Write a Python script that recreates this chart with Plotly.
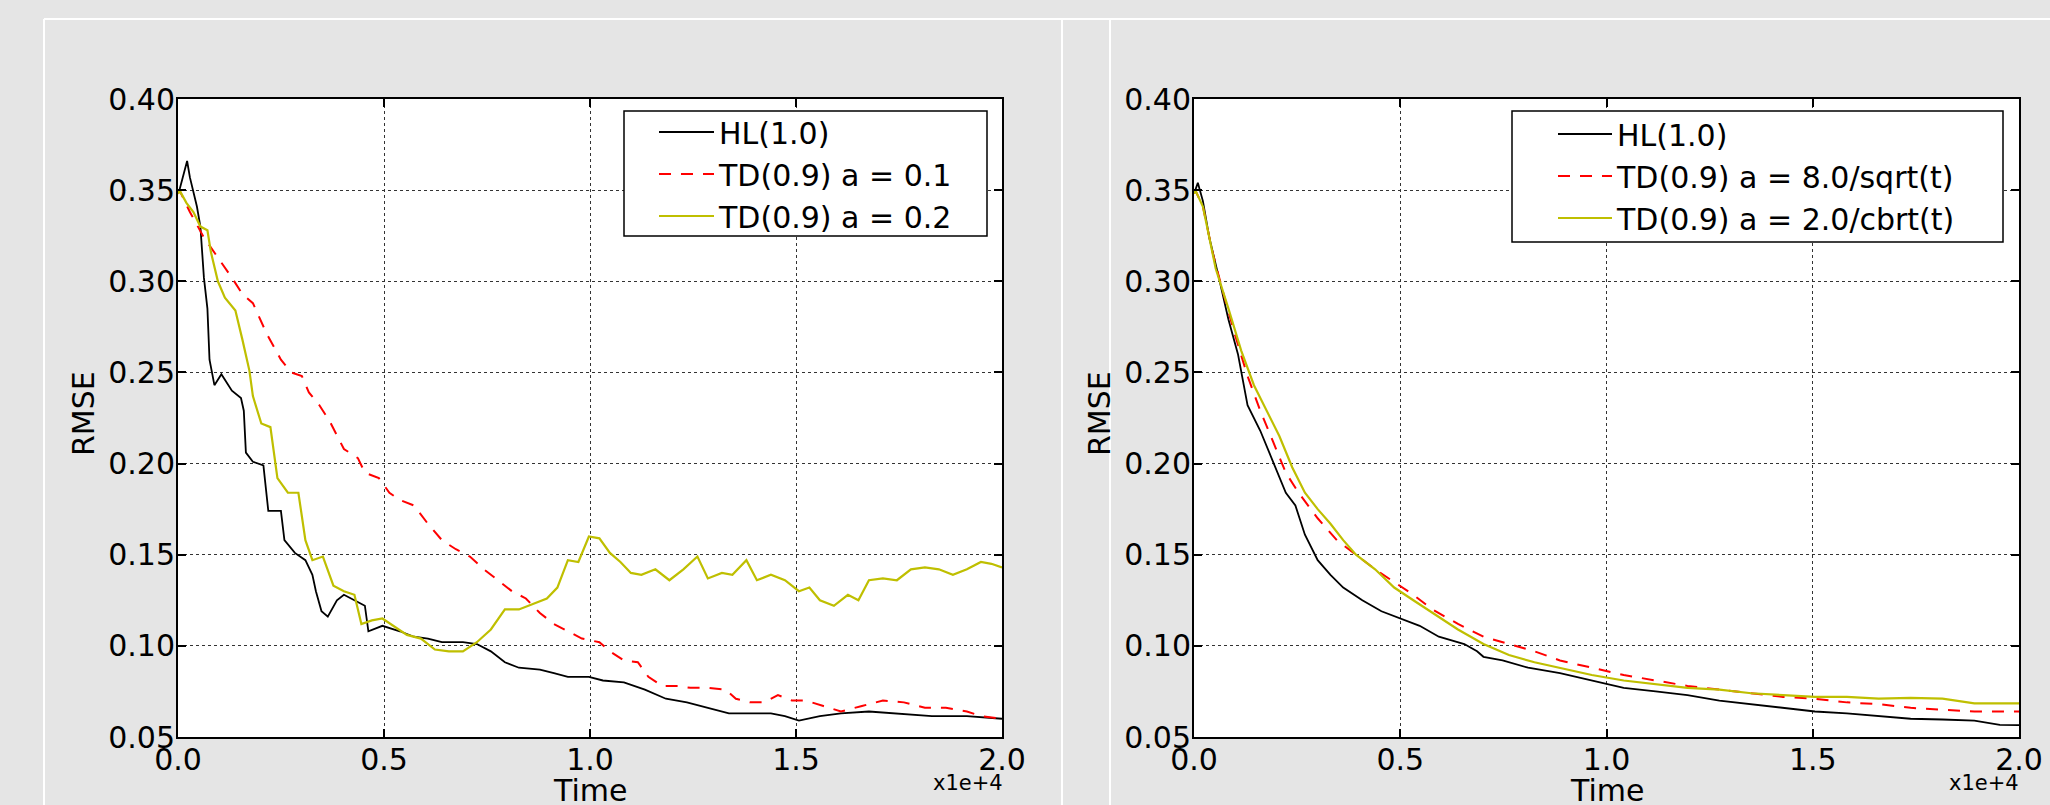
import plotly.graph_objects as go

# ---------------- data (Time in raw units, RMSE) ----------------
# Left panel
hl_left_t = [0, 34, 221, 289, 459, 544, 629, 714, 765, 884, 1053, 1308, 1529, 1597, 1648, 1818, 2073, 2192,
             2498, 2583, 2837, 3092, 3262, 3347, 3483, 3636, 3857, 4027, 4282, 4536, 4621, 4961, 5386, 5726,
             6065, 6405, 6915, 7254, 7594, 7934, 8274, 8784, 9124, 9463, 9973, 10313, 10823, 11332, 11842,
             12352, 12862, 13372, 13881, 14391, 14731, 15071, 15580, 16090, 16770, 17449, 18299, 19148, 20000]
hl_left_v = [0.348, 0.350, 0.366, 0.357, 0.341, 0.330, 0.302, 0.285, 0.257, 0.243, 0.249, 0.240, 0.236, 0.229,
             0.206, 0.201, 0.199, 0.174, 0.174, 0.158, 0.151, 0.147, 0.139, 0.130, 0.119, 0.116, 0.125, 0.128,
             0.125, 0.122, 0.108, 0.111, 0.108, 0.105, 0.104, 0.102, 0.102, 0.101, 0.097, 0.091, 0.088, 0.087,
             0.085, 0.083, 0.083, 0.081, 0.080, 0.076, 0.071, 0.069, 0.066, 0.063, 0.063, 0.063, 0.0615, 0.059,
             0.0615, 0.063, 0.064, 0.063, 0.0615, 0.0615, 0.060]

td01_t = [0, 34, 289, 629, 968, 1308, 1563, 1818, 2158, 2498, 2752, 3007, 3177, 3432, 3687, 4027, 4366, 4536,
          4876, 5131, 5386, 5726, 6065, 6405, 6745, 7085, 7425, 7764, 8104, 8444, 8784, 9124, 9463, 9803,
          10228, 10483, 10823, 11162, 11417, 11757, 12097, 12437, 12861, 13286, 13541, 13881, 14221, 14561,
          14900, 15240, 15665, 16090, 16600, 17109, 17619, 18129, 18638, 19148, 19488, 20000]
td01_v = [0.348, 0.350, 0.338, 0.324, 0.313, 0.302, 0.293, 0.288, 0.271, 0.257, 0.250, 0.248, 0.239, 0.232,
          0.223, 0.208, 0.203, 0.195, 0.192, 0.184, 0.180, 0.177, 0.167, 0.158, 0.153, 0.149, 0.142, 0.136,
          0.130, 0.126, 0.118, 0.112, 0.108, 0.104, 0.102, 0.097, 0.092, 0.091, 0.083, 0.078, 0.078, 0.077,
          0.077, 0.076, 0.071, 0.069, 0.069, 0.073, 0.070, 0.070, 0.067, 0.064, 0.067, 0.070, 0.069, 0.066,
          0.066, 0.064, 0.0615, 0.060]

td02_t = [0, 34, 204, 374, 544, 714, 799, 968, 1138, 1393, 1563, 1733, 1818, 2022, 2243, 2413, 2667, 2922,
          3092, 3262, 3517, 3772, 4027, 4282, 4451, 4706, 4961, 5216, 5556, 5896, 6235, 6575, 6915, 7254,
          7594, 7934, 8274, 8614, 8953, 9208, 9463, 9718, 9973, 10228, 10483, 10738, 10992, 11247, 11587,
          11927, 12267, 12607, 12861, 13201, 13456, 13796, 14051, 14391, 14731, 15071, 15325, 15580, 15920,
          16260, 16515, 16770, 17109, 17449, 17789, 18129, 18468, 18808, 19148, 19488, 19743, 20000]
td02_v = [0.348, 0.350, 0.343, 0.338, 0.330, 0.328, 0.316, 0.300, 0.291, 0.284, 0.268, 0.251, 0.237, 0.222,
          0.220, 0.192, 0.184, 0.184, 0.158, 0.147, 0.149, 0.133, 0.130, 0.128, 0.112, 0.114, 0.115, 0.111,
          0.106, 0.104, 0.098, 0.097, 0.097, 0.102, 0.109, 0.120, 0.120, 0.123, 0.126, 0.132, 0.147, 0.146,
          0.160, 0.159, 0.151, 0.146, 0.140, 0.139, 0.142, 0.136, 0.142, 0.149, 0.137, 0.140, 0.139, 0.147,
          0.136, 0.139, 0.136, 0.130, 0.132, 0.125, 0.122, 0.128, 0.125, 0.136, 0.137, 0.136, 0.142, 0.143,
          0.142, 0.139, 0.142, 0.146, 0.145, 0.143]

# Right panel
hl_right_t = [0, 31, 93, 216, 371, 603, 835, 1066, 1298, 1607, 1917, 2226, 2458, 2689, 2998, 3308, 3617,
              4080, 4544, 5008, 5471, 5935, 6553, 6862, 7017, 7481, 8099, 8872, 9644, 10417, 11190, 11963,
              12736, 13509, 14281, 15054, 15827, 16600, 17373, 18145, 18918, 19536, 20000]
hl_right_v = [0.348, 0.350, 0.354, 0.344, 0.324, 0.302, 0.279, 0.260, 0.232, 0.218, 0.201, 0.184, 0.177,
              0.161, 0.147, 0.139, 0.132, 0.125, 0.119, 0.115, 0.111, 0.105, 0.101, 0.097, 0.094, 0.092,
              0.088, 0.085, 0.081, 0.077, 0.075, 0.073, 0.070, 0.068, 0.066, 0.064, 0.063, 0.0615, 0.060,
              0.0596, 0.059, 0.0567, 0.0565]

sqrt_t = [0, 31, 216, 448, 680, 989, 1298, 1607, 1917, 2226, 2535, 2998, 3462, 3926, 4390, 4853, 5317, 5781,
          6399, 7017, 7635, 8253, 8872, 9644, 10417, 11190, 11963, 12736, 13509, 14281, 15054, 15827, 16600,
          17373, 18145, 18918, 19536, 20000]
sqrt_v = [0.348, 0.350, 0.341, 0.316, 0.296, 0.271, 0.248, 0.229, 0.212, 0.195, 0.184, 0.170, 0.158, 0.150,
          0.142, 0.135, 0.128, 0.120, 0.112, 0.105, 0.101, 0.097, 0.092, 0.088, 0.084, 0.081, 0.078, 0.076,
          0.074, 0.072, 0.071, 0.069, 0.068, 0.066, 0.065, 0.064, 0.064, 0.064]

cbrt_t = [0, 31, 216, 526, 835, 1144, 1453, 1762, 2071, 2380, 2689, 2998, 3308, 3617, 3926, 4390, 4853, 5317,
          5781, 6399, 7017, 7635, 8253, 8872, 9644, 10417, 11190, 11963, 12736, 13509, 14281, 15054, 15827,
          16600, 17373, 18145, 18918, 19536, 20000]
cbrt_v = [0.348, 0.350, 0.341, 0.307, 0.285, 0.262, 0.243, 0.229, 0.215, 0.198, 0.184, 0.175, 0.167, 0.158,
          0.150, 0.142, 0.132, 0.125, 0.118, 0.109, 0.101, 0.095, 0.091, 0.088, 0.084, 0.081, 0.079, 0.077,
          0.076, 0.074, 0.073, 0.072, 0.072, 0.071, 0.0715, 0.071, 0.0685, 0.0685, 0.0685]

left_names = ["HL(1.0)", "TD(0.9) a = 0.1", "TD(0.9) a = 0.2"]
right_names = ["HL(1.0)", "TD(0.9) a = 8.0/sqrt(t)", "TD(0.9) a = 2.0/cbrt(t)"]

x_tickvals = [0, 5000, 10000, 15000, 20000]
x_ticktext = ["0.0", "0.5", "1.0", "1.5", "2.0"]
y_tickvals = [0.05, 0.10, 0.15, 0.20, 0.25, 0.30, 0.35, 0.40]
y_ticktext = ["0.05", "0.10", "0.15", "0.20", "0.25", "0.30", "0.35", "0.40"]

# ---------------- styling ----------------
W, H = 2050, 805
FONT = "DejaVu Sans"
BLACK = "#000000"
RED = "#ff0000"
YEL = "#bfbf00"
BG = "#e5e5e5"


def px_x(p):
    return p / W


def px_y(p):
    return (H - p) / H


fig = go.Figure()

styles = [dict(color=BLACK, width=1.8), dict(color=RED, width=2, dash="12px,10px"), dict(color=YEL, width=2.2)]

left_series = [(hl_left_t, hl_left_v), (td01_t, td01_v), (td02_t, td02_v)]
right_series = [(hl_right_t, hl_right_v), (sqrt_t, sqrt_v), (cbrt_t, cbrt_v)]

for (t, v), name, st in zip(left_series, left_names, styles):
    fig.add_trace(go.Scatter(x=t, y=v, mode="lines", name=name, line=st,
                             xaxis="x", yaxis="y", legend="legend"))
for (t, v), name, st in zip(right_series, right_names, styles):
    fig.add_trace(go.Scatter(x=t, y=v, mode="lines", name=name, line=st,
                             xaxis="x2", yaxis="y2", legend="legend2"))

axis_common = dict(
    showline=True, linecolor=BLACK, linewidth=2, mirror="ticks",
    ticks="inside", ticklen=8, tickwidth=1.5, tickcolor=BLACK,
    showgrid=True, gridcolor="#333333", griddash="dot", gridwidth=1,
    zeroline=False, tickfont=dict(family=FONT, size=30, color=BLACK),
    automargin=False,
)

xdom1 = [px_x(178), px_x(1002)]
xdom2 = [px_x(1194), px_x(2019)]
ydom = [px_y(737), px_y(99)]

legend_common = dict(xanchor="left", yanchor="top", bgcolor="rgba(0,0,0,0)", borderwidth=0,
                     font=dict(family=FONT, size=30, color=BLACK), indentation=0, tracegroupgap=0)

fig.update_layout(
    width=W, height=H,
    margin=dict(l=0, r=0, t=0, b=0),
    paper_bgcolor=BG, plot_bgcolor="#ffffff",
    font=dict(family=FONT, color=BLACK),
    xaxis=dict(domain=xdom1, range=[0, 20000], tickvals=x_tickvals, ticktext=x_ticktext,
               anchor="y", ticklabelstandoff=-5, **axis_common),
    yaxis=dict(domain=ydom, range=[0.05, 0.40], tickvals=y_tickvals, ticktext=y_ticktext,
               anchor="x", ticklabelstandoff=-5, **axis_common),
    xaxis2=dict(domain=xdom2, range=[0, 20000], tickvals=x_tickvals, ticktext=x_ticktext,
                anchor="y2", ticklabelstandoff=-5, **axis_common),
    yaxis2=dict(domain=ydom, range=[0.05, 0.40], tickvals=y_tickvals, ticktext=y_ticktext,
                anchor="x2", ticklabelstandoff=-5, **axis_common),
    legend=dict(x=px_x(654), y=px_y(106), itemwidth=55, **legend_common),
    legend2=dict(x=px_x(1553), y=px_y(108), itemwidth=54, **legend_common),
    showlegend=True,
)

# legend frames
for x0, x1, y0, y1 in ((624, 987, 111, 236), (1512, 2003, 111, 242)):
    fig.add_shape(type="rect", xref="paper", yref="paper", x0=px_x(x0), x1=px_x(x1), y0=px_y(y1), y1=px_y(y0),
                  line=dict(color=BLACK, width=1.5), fillcolor="#ffffff", layer="above")

# panel separators (white lines on grey background)
line_style = dict(color="#ffffff", width=2)
fig.add_shape(type="line", xref="paper", yref="paper", x0=px_x(44), x1=1, y0=px_y(19), y1=px_y(19), line=line_style)
for xp in (44, 1062, 1110):
    fig.add_shape(type="line", xref="paper", yref="paper", x0=px_x(xp), x1=px_x(xp), y0=0, y1=px_y(19),
                  line=line_style)

# axis titles and offset labels
for cx, tx, ox in ((84, 590, 968), (1100, 1607, 1984)):
    fig.add_annotation(text="RMSE", xref="paper", yref="paper", x=px_x(cx), y=px_y(414),
                       textangle=-90, showarrow=False, font=dict(family=FONT, size=30, color=BLACK),
                       xanchor="center", yanchor="middle")
    fig.add_annotation(text="Time", xref="paper", yref="paper", x=px_x(tx), y=px_y(790),
                       showarrow=False, font=dict(family=FONT, size=30, color=BLACK),
                       xanchor="center", yanchor="middle")
    fig.add_annotation(text="x1e+4", xref="paper", yref="paper", x=px_x(ox), y=px_y(783),
                       showarrow=False, font=dict(family=FONT, size=21, color=BLACK),
                       xanchor="center", yanchor="middle")

fig.write_html(
    "out.html",
    config={"displayModeBar": False},
    post_script="document.body.style.margin='0px';document.body.style.background='#e5e5e5';",
)
